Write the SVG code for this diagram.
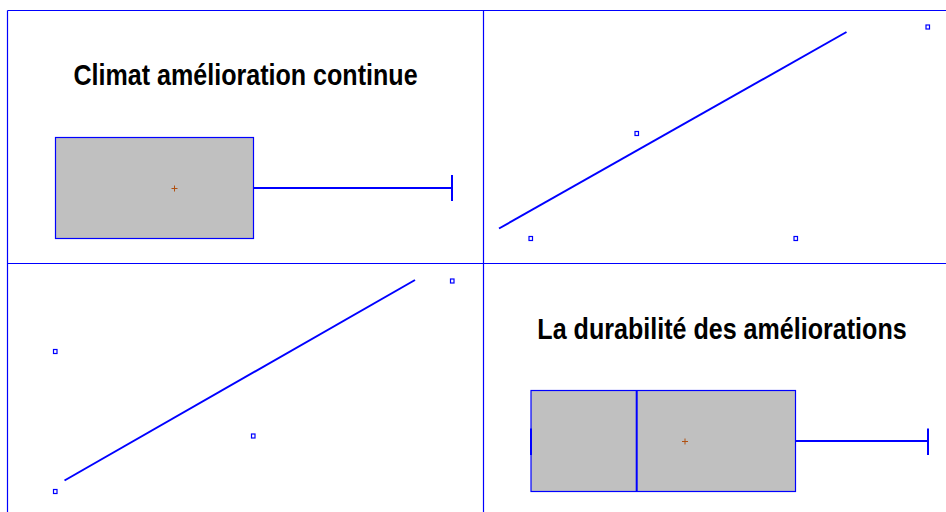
<svg xmlns="http://www.w3.org/2000/svg" width="946" height="512" viewBox="0 0 946 512">
<style>
.frame{fill:none;stroke:#0000ff;stroke-width:1.2}
.ln{stroke:#0000ff;stroke-width:2;fill:none}
.box{fill:#c0c0c0;stroke:#0000ff;stroke-width:1.2}
.pt{fill:none;stroke:#0000ff;stroke-width:1.2}
.mean{stroke:#b05010;stroke-width:1}
.title{font-family:"Liberation Sans",Arial,sans-serif;font-weight:bold;font-size:29px;fill:#000;text-anchor:middle}
</style>
<rect width="946" height="512" fill="#fff"/>
<g id="frame">
<line class="frame" x1="7.5" y1="10.5" x2="946" y2="10.5"/>
<line class="frame" x1="7.5" y1="10.5" x2="7.5" y2="512"/>
<line class="frame" x1="483.5" y1="10.5" x2="483.5" y2="512"/>
<line class="frame" x1="7.5" y1="263.5" x2="946" y2="263.5"/>
</g>
<g id="panel1">
<text class="title" transform="translate(245.5 84.5) scale(0.865 1)" x="0" y="0">Climat amélioration continue</text>
<rect class="box" x="55.5" y="137.5" width="198" height="101"/>
<line class="ln" x1="253.5" y1="188" x2="452" y2="188"/>
<line class="ln" x1="452" y1="175" x2="452" y2="201"/>
<line class="mean" x1="171.5" y1="188.5" x2="177.5" y2="188.5"/>
<line class="mean" x1="174.5" y1="185.5" x2="174.5" y2="191.5"/>
</g>
<g id="panel2">
<line class="ln" x1="499" y1="228.5" x2="846.5" y2="32"/>
<rect class="pt" x="529" y="236.5" width="3.5" height="4"/>
<rect class="pt" x="635" y="131.5" width="3.5" height="4"/>
<rect class="pt" x="794" y="236.5" width="3.5" height="4"/>
<rect class="pt" x="926" y="25" width="3.5" height="4"/>
</g>
<g id="panel3">
<line class="ln" x1="64.5" y1="480.5" x2="415" y2="280"/>
<rect class="pt" x="53.5" y="349.5" width="3.5" height="4"/>
<rect class="pt" x="251.5" y="434" width="3.5" height="4"/>
<rect class="pt" x="53.5" y="489.5" width="3.5" height="4"/>
<rect class="pt" x="450.5" y="279" width="3.5" height="4"/>
</g>
<g id="panel4">
<text class="title" transform="translate(722 338.5) scale(0.865 1)" x="0" y="0">La durabilité des améliorations</text>
<rect class="box" x="531" y="390.5" width="264.5" height="101"/>
<line class="ln" x1="531" y1="428.5" x2="531" y2="455"/>
<line class="ln" x1="636.7" y1="390.5" x2="636.7" y2="491.5"/>
<line class="ln" x1="795.5" y1="441" x2="928" y2="441"/>
<line class="ln" x1="928" y1="428.5" x2="928" y2="455"/>
<line class="mean" x1="682" y1="441.5" x2="688" y2="441.5"/>
<line class="mean" x1="685" y1="438.5" x2="685" y2="444.5"/>
</g>
</svg>
